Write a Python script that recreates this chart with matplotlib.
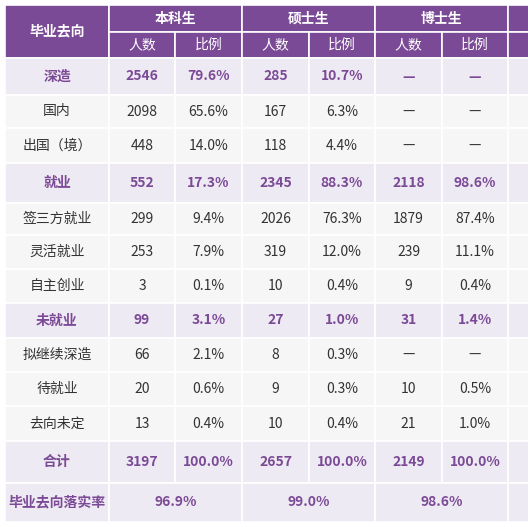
import matplotlib
matplotlib.use("Agg")
import matplotlib.pyplot as plt
from matplotlib.patches import Rectangle

plt.rcParams['font.family'] = ['Noto Sans CJK SC', 'DejaVu Sans']

groups = ["本科生", "硕士生", "博士生"]
sub_headers = ["人数", "比例"]
row_labels = ["深造", "国内", "出国（境）", "就业", "签三方就业", "灵活就业", "自主创业",
              "未就业", "拟继续深造", "待就业", "去向未定", "合计"]
is_category = [True, False, False, True, False, False, False, True, False, False, False, True]
bachelor = [("2546", "79.6%"), ("2098", "65.6%"), ("448", "14.0%"), ("552", "17.3%"),
            ("299", "9.4%"), ("253", "7.9%"), ("3", "0.1%"), ("99", "3.1%"),
            ("66", "2.1%"), ("20", "0.6%"), ("13", "0.4%"), ("3197", "100.0%")]
master = [("285", "10.7%"), ("167", "6.3%"), ("118", "4.4%"), ("2345", "88.3%"),
          ("2026", "76.3%"), ("319", "12.0%"), ("10", "0.4%"), ("27", "1.0%"),
          ("8", "0.3%"), ("9", "0.3%"), ("10", "0.4%"), ("2657", "100.0%")]
doctor = [("—", "—"), ("—", "—"), ("—", "—"), ("2118", "98.6%"),
          ("1879", "87.4%"), ("239", "11.1%"), ("9", "0.4%"), ("31", "1.4%"),
          ("—", "—"), ("10", "0.5%"), ("21", "1.0%"), ("2149", "100.0%")]
rate_label = "毕业去向落实率"
rates = ["96.9%", "99.0%", "98.6%"]
corner = "毕业去向"

W, H = 528, 527
fig = plt.figure(figsize=(W/100, H/100), dpi=100)
ax = fig.add_axes([0, 0, 1, 1])
ax.set_xlim(0, W); ax.set_ylim(H, 0); ax.axis('off')

PURPLE = "#7B4A96"; LAV = "#EEEAF3"; GRAY = "#F6F6F7"; TXT = "#333333"; PTXT = "#7B4A96"
cols = [5, 109, 175, 242, 309, 375, 442, 508, 575]
rows = [58, 95, 128, 163, 203, 235, 269, 303, 338, 372, 406, 441, 483, 522]

def cell(x0, x1, y0, y1, fc, text="", color=TXT, bold=False, size=10):
    ax.add_patch(Rectangle((x0, y0), x1-x0, y1-y0, fc=fc, ec="white", lw=1.2))
    if text:
        ax.text((x0+x1)/2, (y0+y1)/2, text, ha='center', va='center', color=color,
                fontsize=size, fontweight='bold' if bold else 'normal')

# header
cell(cols[0], cols[1], 5, 58, PURPLE, corner, "white", True)
for g in range(3):
    cell(cols[1+2*g], cols[3+2*g], 5, 32, PURPLE, groups[g], "white", True)
    for s in range(2):
        cell(cols[1+2*g+s], cols[2+2*g+s], 32, 58, PURPLE, sub_headers[s], "white")
cell(cols[7], cols[8], 5, 32, PURPLE)
cell(cols[7], cols[8], 32, 58, PURPLE)

data = [bachelor, master, doctor]
for i, lab in enumerate(row_labels):
    y0, y1 = rows[i], rows[i+1]
    cat = is_category[i]
    fc = LAV if cat else GRAY
    col = PTXT if cat else TXT
    cell(cols[0], cols[1], y0, y1, fc, lab, col, cat)
    for g in range(3):
        for s in range(2):
            cell(cols[1+2*g+s], cols[2+2*g+s], y0, y1, fc, data[g][i][s], col, cat)
    cell(cols[7], cols[8], y0, y1, fc)

y0, y1 = rows[-2], rows[-1]
cell(cols[0], cols[1], y0, y1, LAV, rate_label, PTXT, True)
for g in range(3):
    cell(cols[1+2*g], cols[3+2*g], y0, y1, LAV, rates[g], PTXT, True)
cell(cols[7], cols[8], y0, y1, LAV)

fig.savefig("out.png", dpi=100, facecolor="white")
